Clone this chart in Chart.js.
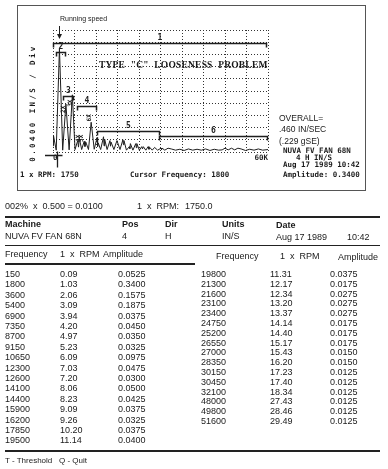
<!DOCTYPE html>
<html lang="en">
<head>
<meta charset="UTF-8">
<title>Type C looseness spectrum</title>
<script src="https://cdn.jsdelivr.net/npm/chart.js"></script>
<style>
    body {
        margin: 0;
        width: 388px;
        height: 469px;
        background: #fff;
        position: relative;
        overflow: hidden;
        font-family: "Liberation Sans", Arial, sans-serif;
        font-size: 9px;
        color: #1a1a1a;
    }
    .t { position: absolute; white-space: nowrap; line-height: 10px; }
    .b { font-weight: bold; }
    .mono { font-family: "DejaVu Sans Mono", monospace; font-weight: bold; font-size: 7.5px; }
    .rule { position: absolute; background: #222; }
    #box { position: absolute; left: 17px; top: 5px; width: 347px; height: 184px; border: 1px solid #555; }
    #spectrum { position: absolute; left: 17px; top: 5px; }
    #ytitle { position: absolute; left: 33px; top: 103px; transform: translate(-50%, -50%) rotate(-90deg); letter-spacing: 2.4px; }
    #title { font-family: "Liberation Serif", serif; font-weight: bold; font-size: 9.5px; letter-spacing: 0.2px; word-spacing: 3px; }
</style>
</head>
<body>
<div id="box"></div>
<canvas id="spectrum" width="349" height="186"></canvas>

<div class="t mono" id="ytitle">0.0400 IN/S / Div</div>
<div class="t" style="left:60px;top:14px;font-size:7px;">Running speed</div>
<div class="t" id="title" style="left:99px;top:60px;">TYPE "C" LOOSENESS PROBLEM</div>
<div class="t" style="left:279px;top:113px;font-size:8.5px;">OVERALL=</div>
<div class="t" style="left:279px;top:124px;font-size:8.5px;">.460 IN/SEC</div>
<div class="t" style="left:279px;top:136px;font-size:8.5px;">(.229 gSE)</div>
<div class="t mono" style="left:283px;top:146px;">NUVA FV FAN 68N</div>
<div class="t mono" style="left:296px;top:153px;">4 H IN/S</div>
<div class="t mono" style="left:283px;top:160px;">Aug 17 1989  10:42</div>
<div class="t mono" style="left:20px;top:170px;">1 x RPM: 1750</div>
<div class="t mono" style="left:130px;top:170px;">Cursor Frequency: 1800</div>
<div class="t mono" style="left:283px;top:170px;">Amplitude: 0.3400</div>

<div class="t" style="left:5px;top:201px;">002%&nbsp; x&nbsp; 0.500 = 0.0100</div>
<div class="t" style="left:137px;top:201px;">1&nbsp; x&nbsp; RPM:</div>
<div class="t" style="left:185px;top:201px;">1750.0</div>
<div class="rule" style="left:5px;top:216px;width:375px;height:2px;"></div>
<div class="t b" style="left:5px;top:219px;">Machine</div>
<div class="t b" style="left:122px;top:219px;">Pos</div>
<div class="t b" style="left:165px;top:219px;">Dir</div>
<div class="t b" style="left:222px;top:219px;">Units</div>
<div class="t b" style="left:276px;top:220px;">Date</div>
<div class="t" style="left:5px;top:231px;">NUVA FV FAN 68N</div>
<div class="t" style="left:122px;top:231px;">4</div>
<div class="t" style="left:165px;top:231px;">H</div>
<div class="t" style="left:222px;top:231px;">IN/S</div>
<div class="t" style="left:276px;top:232px;">Aug 17 1989</div>
<div class="t" style="left:347px;top:232px;">10:42</div>
<div class="rule" style="left:5px;top:245px;width:375px;height:1px;"></div>
<div class="t" style="left:5px;top:249px;">Frequency</div>
<div class="t" style="left:60px;top:249px;">1&nbsp; x&nbsp; RPM</div>
<div class="t" style="left:103px;top:249px;">Amplitude</div>
<div class="t" style="left:216px;top:251px;">Frequency</div>
<div class="t" style="left:280px;top:251px;">1&nbsp; x&nbsp; RPM</div>
<div class="t" style="left:338px;top:252px;">Amplitude</div>
<div class="rule" style="left:5px;top:263px;width:190px;height:2px;"></div>
<div id="rows"></div>
<div class="rule" style="left:5px;top:450px;width:375px;height:2px;"></div>
<div class="t" style="left:5px;top:456px;font-size:8px;">T - Threshold&nbsp;&nbsp; Q - Quit</div>

<script>
    // peaks listed in the table (CPM, orders, IN/S)
    const peakFreq = [150, 1800, 3600, 5400, 6900, 7350, 8700, 9150, 10650, 12300, 12600, 14100, 14400, 15900, 16200, 17850, 19500,
                      19800, 21300, 21600, 23100, 23400, 24750, 25200, 26550, 27000, 28350, 30150, 30450, 32100, 48000, 49800, 51600];
    const peakOrder = ['0.09', '1.03', '2.06', '3.09', '3.94', '4.20', '4.97', '5.23', '6.09', '7.03', '7.20', '8.06', '8.23', '9.09', '9.26', '10.20', '11.14',
                       '11.31', '12.17', '12.34', '13.20', '13.37', '14.14', '14.40', '15.17', '15.43', '16.20', '17.23', '17.40', '18.34', '27.43', '28.46', '29.49'];
    const peakAmp = [0.0525, 0.3400, 0.1575, 0.1875, 0.0375, 0.0450, 0.0350, 0.0325, 0.0975, 0.0475, 0.0300, 0.0500, 0.0425, 0.0375, 0.0325, 0.0375, 0.0400,
                     0.0375, 0.0175, 0.0275, 0.0275, 0.0275, 0.0175, 0.0175, 0.0175, 0.0150, 0.0150, 0.0125, 0.0125, 0.0125, 0.0125, 0.0125, 0.0125];

    // noise floor between the peaks
    const floorFreq = [0, 900, 2700, 4500, 6150, 7120, 8000, 8920, 9900, 11500, 12450, 13300, 14250, 15100, 16050, 17000, 18700, 19650,
                       20500, 21450, 22300, 23250, 24100, 24980, 25900, 26780, 27700, 29200, 30300, 31200, 33000, 34200, 35400, 36600,
                       37800, 39000, 40200, 41400, 42600, 43800, 45000, 46200, 47200, 48900, 50700, 52500, 53700, 54900, 56100, 57300, 58500, 60000];
    const floorAmp = [0.020, 0.006, 0.006, 0.007, 0.008, 0.016, 0.008, 0.018, 0.008, 0.009, 0.018, 0.008, 0.020, 0.008, 0.019, 0.008, 0.008, 0.024,
                      0.006, 0.011, 0.006, 0.014, 0.006, 0.010, 0.006, 0.009, 0.006, 0.006, 0.008, 0.006, 0.010, 0.006, 0.009, 0.005,
                      0.010, 0.006, 0.009, 0.006, 0.010, 0.005, 0.009, 0.006, 0.007, 0.007, 0.007, 0.010, 0.005, 0.009, 0.006, 0.010, 0.006, 0.008];

    // numbered bands drawn over the spectrum
    const bandLabels = ['1', '2', '3', '4', '5', '6'];
    const bandFrom = [0, 900, 2900, 6600, 12300, 29600];
    const bandTo = [59500, 3300, 5700, 12000, 29600, 59600];
    const bandLevel = [0.357, 0.328, 0.184, 0.150, 0.070, 0.052];

    // order marks written beside the peaks
    const orderLabels = ['2X', '3X', '4X', '5X', '6X'];
    const orderFreq = [2900, 4900, 7000, 7900, 10300];
    const orderAmp = [0.140, 0.160, 0.045, 0.045, 0.112];

    const runningSpeed = 1750;
    const cursorFreq = 1800;

    // table rows; the right column sits a little tighter on the scan
    const rowsEl = document.getElementById('rows');
    peakFreq.forEach((f, i) => {
        const right = i >= 17;
        const r = right ? i - 17 : i;
        const y = 269 + r * (right ? 9.8 : 10.4);
        const cols = right ? [201, 270, 330] : [5, 60, 118];
        [String(f), peakOrder[i], peakAmp[i].toFixed(4)].forEach((txt, k) => {
            const d = document.createElement('div');
            d.className = 't';
            d.style.left = cols[k] + 'px';
            d.style.top = y + 'px';
            d.textContent = txt;
            rowsEl.appendChild(d);
        });
    });

    const points = [];
    peakFreq.forEach((f, i) => points.push({ x: f, y: peakAmp[i] }));
    floorFreq.forEach((f, i) => points.push({ x: f, y: floorAmp[i] }));
    points.sort((a, b) => a.x - b.x);

    const ink = '#1e1e1e';
    const monoFont = { family: 'DejaVu Sans Mono', weight: 'bold', size: 7.5 };

    const marks = {
        id: 'marks',
        afterDatasetsDraw(chart) {
            const { ctx, scales: { x, y }, chartArea } = chart;
            ctx.save();
            ctx.strokeStyle = ink;
            ctx.fillStyle = ink;
            ctx.lineWidth = 1.5;
            ctx.textAlign = 'center';
            ctx.font = 'bold 8px "DejaVu Sans Mono"';
            bandLabels.forEach((lab, i) => {
                const x0 = Math.round(x.getPixelForValue(bandFrom[i])) + 0.5;
                const x1 = Math.round(x.getPixelForValue(bandTo[i])) + 0.5;
                const yy = Math.round(y.getPixelForValue(bandLevel[i])) + 0.5;
                ctx.beginPath();
                ctx.moveTo(x0, yy + 4);
                ctx.lineTo(x0, yy);
                ctx.lineTo(x1, yy);
                ctx.lineTo(x1, yy + 4);
                ctx.stroke();
                ctx.textBaseline = 'bottom';
                ctx.fillText(lab, (x0 + x1) / 2, yy - 2);
            });

            // order marks, turned on their side
            ctx.font = 'bold 6px "DejaVu Sans Mono"';
            ctx.textBaseline = 'middle';
            orderLabels.forEach((lab, i) => {
                ctx.save();
                ctx.translate(x.getPixelForValue(orderFreq[i]), y.getPixelForValue(orderAmp[i]));
                ctx.rotate(-Math.PI / 2);
                ctx.fillText(lab, 0, 0);
                ctx.restore();
            });

            // running speed arrow
            const xr = Math.round(x.getPixelForValue(runningSpeed)) + 0.5;
            ctx.lineWidth = 1;
            ctx.beginPath();
            ctx.moveTo(xr, chartArea.top - 4);
            ctx.lineTo(xr, chartArea.top + 8);
            ctx.stroke();
            ctx.beginPath();
            ctx.moveTo(xr - 2.5, chartArea.top + 4);
            ctx.lineTo(xr, chartArea.top + 9);
            ctx.lineTo(xr + 2.5, chartArea.top + 4);
            ctx.fill();

            // origin cross and cursor marker
            const yb = Math.round(y.getPixelForValue(0)) + 3.5;
            const xc = Math.round(x.getPixelForValue(cursorFreq)) - 1.5;
            ctx.lineWidth = 1.3;
            ctx.beginPath();
            ctx.moveTo(chartArea.left - 8, yb);
            ctx.lineTo(xc + 5, yb);
            ctx.moveTo(xc, yb - 4);
            ctx.lineTo(xc, yb + 12);
            ctx.stroke();
            ctx.restore();
        }
    };

    new Chart(document.getElementById('spectrum'), {
        type: 'line',
        data: {
            datasets: [{
                data: points,
                borderColor: ink,
                borderWidth: 1,
                pointRadius: 0,
                tension: 0
            }]
        },
        options: {
            responsive: false,
            animation: false,
            layout: { padding: { left: 36, right: 98, top: 25, bottom: 21 } },
            plugins: { legend: { display: false }, tooltip: { enabled: false } },
            scales: {
                x: {
                    type: 'linear',
                    min: 0,
                    max: 60000,
                    afterFit(s) { s.height = 18; },
                    ticks: {
                        stepSize: 6000,
                        autoSkip: false,
                        maxRotation: 0,
                        align: 'inner',
                        padding: 2,
                        color: ink,
                        font: monoFont,
                        callback: v => v === 0 ? '0' : (v === 60000 ? '60K' : '')
                    },
                    grid: { color: '#333', lineWidth: 1, drawTicks: false },
                    border: { display: false, dash: [1, 2] }
                },
                y: {
                    min: 0,
                    max: 0.4,
                    afterFit(s) { s.width = 0; },
                    ticks: { stepSize: 0.04, display: false },
                    grid: { color: '#333', lineWidth: 1, drawTicks: false },
                    border: { display: false, dash: [1, 2] }
                }
            }
        },
        plugins: [marks]
    });
</script>
</body>
</html>
